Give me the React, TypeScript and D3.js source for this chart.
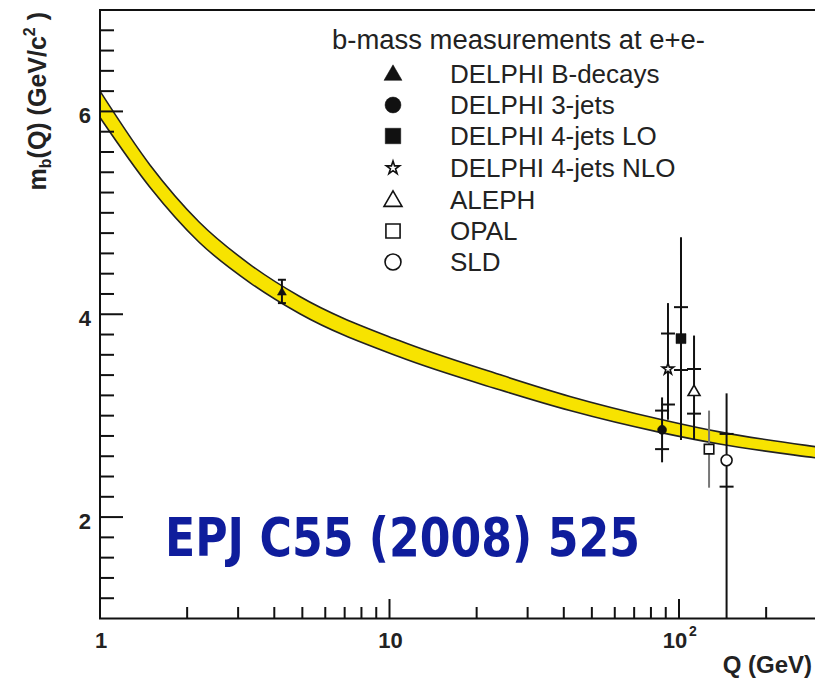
import React from "react";
import * as d3 from "d3";

// running b-quark mass band
const bandQ = [1, 1.49, 2.2, 3.3, 4.9, 10.8, 24, 42, 86, 138, 295, 400];
const bandMass = [6.07, 5.36, 4.81, 4.4, 4.09, 3.66, 3.33, 3.12, 2.9, 2.78, 2.64, 2.59];
const bandHalf = [0.13, 0.11, 0.1, 0.09, 0.085, 0.08, 0.075, 0.07, 0.065, 0.06, 0.055, 0.055];

// measurements
const expNames = ["DELPHI B-decays", "DELPHI 3-jets", "DELPHI 4-jets LO", "DELPHI 4-jets NLO", "ALEPH", "OPAL", "SLD"];
const expQ = [4.25, 87.4, 101.6, 91.6, 112.7, 127, 146];
const expMass = [4.22, 2.86, 3.76, 3.46, 3.24, 2.67, 2.56];
const expErrUp = [0.12, 0.32, 1.0, 0.65, 0.55, 0.38, 0.66];
const expErrDown = [0.11, 0.32, 1.0, 0.5, 0.48, 0.38, 1.7];
const expStat = [0, 0.19, 0.31, 0.35, 0.22, 0, 0.26];
const expSymbol = ["triangle", "circle", "square", "star", "triangle", "square", "circle"];
const expFilled = [true, true, true, false, false, false, false];

const legendTitle = "b-mass measurements at e+e-";
const yTickValues = [2, 4, 6];

const W = 815, H = 681;
const FONT = "'Liberation Sans', Arial, Helvetica, sans-serif";

const symType: Record<string, d3.SymbolType> = {
  triangle: d3.symbolTriangle,
  circle: d3.symbolCircle,
  square: d3.symbolSquare,
  star: d3.symbolStar,
};

export default function App() {
  const x = d3.scaleLog().domain([1, 1000]).range([100, 100 + 3 * 289.5]);
  const y = d3.scaleLinear().domain([1, 7]).range([618.5, 10]);

  const band = bandQ.map((q, i) => ({ q, m: bandMass[i], h: bandHalf[i] }));
  const area = d3.area<any>().x(d => x(d.q)).y0(d => y(d.m - d.h)).y1(d => y(d.m + d.h)).curve(d3.curveMonotoneX);
  const upper = d3.line<any>().x(d => x(d.q)).y(d => y(d.m + d.h)).curve(d3.curveMonotoneX);
  const lower = d3.line<any>().x(d => x(d.q)).y(d => y(d.m - d.h)).curve(d3.curveMonotoneX);

  // minor ticks
  const yMinor = d3.range(1.2, 6.81, 0.2).filter(v => !yTickValues.some(t => Math.abs(t - v) < 1e-6));
  const xMinor: number[] = [];
  [1, 10, 100].forEach(d => { for (let k = 2; k <= 9; k++) xMinor.push(k * d); });

  const plotSize = [35, 64, 100, 40, 62, 90, 95];
  const legendSize = [140, 200, 240, 55, 140, 200, 200];

  const marker = (i: number, size: number, cx: number, cy: number, key: string) => {
    const p = d3.symbol().type(symType[expSymbol[i]]).size(size)();
    const dy = expSymbol[i] === "triangle" ? Math.sqrt(size) * 0.1 : 0;
    return (
      <path key={key} d={p || ""} transform={`translate(${cx},${cy + dy})`}
        fill={expFilled[i] ? "#111" : "white"} stroke="#111"
        strokeWidth={expFilled[i] ? 0.5 : 1.6} />
    );
  };

  return (
    <svg width={W} height={H} style={{ position: "absolute", left: 0, top: 0, background: "white" }} fontFamily={FONT}>
      <defs>
        <clipPath id="plot"><rect x={100} y={10} width={900} height={608.5} /></clipPath>
      </defs>

      {/* band */}
      <g clipPath="url(#plot)">
        <path d={area(band) || ""} fill="#f7e300" />
        <path d={upper(band) || ""} fill="none" stroke="#222" strokeWidth={1.6} />
        <path d={lower(band) || ""} fill="none" stroke="#222" strokeWidth={1.6} />

        {/* error bars */}
        {expQ.map((q, i) => {
          const cx = x(q);
          const isOpal = expNames[i] === "OPAL";
          const col = isOpal ? "#777" : "#111";
          const capW = i === 0 ? 4 : 0;
          return (
            <g key={"e" + i}>
              <line x1={cx} x2={cx} y1={y(expMass[i] + expErrUp[i])} y2={y(expMass[i] - expErrDown[i])} stroke={col} strokeWidth={2} />
              {capW > 0 && [expErrUp[i], -expErrDown[i]].map((e, j) => (
                <line key={j} x1={cx - capW} x2={cx + capW} y1={y(expMass[i] + e)} y2={y(expMass[i] + e)} stroke={col} strokeWidth={2} />
              ))}
              {expStat[i] > 0 && [expStat[i], -expStat[i]].map((e, j) => (
                <line key={"s" + j} x1={cx - 7} x2={cx + 7} y1={y(expMass[i] + e)} y2={y(expMass[i] + e)} stroke={col} strokeWidth={2} />
              ))}
            </g>
          );
        })}
        {expQ.map((q, i) => marker(i, plotSize[i], x(q), y(expMass[i]), "m" + i))}
      </g>

      {/* frame */}
      <line x1={100} x2={100} y1={10} y2={619} stroke="#111" strokeWidth={2} />
      <line x1={99} x2={W} y1={618.5} y2={618.5} stroke="#111" strokeWidth={2} />
      <line x1={99} x2={W} y1={10} y2={10} stroke="#111" strokeWidth={2} />

      {/* y ticks */}
      {yMinor.map(v => (
        <line key={"ym" + v} x1={100} x2={114} y1={y(v)} y2={y(v)} stroke="#111" strokeWidth={2} />
      ))}
      {yTickValues.map(v => (
        <g key={"yt" + v}>
          <line x1={100} x2={123} y1={y(v)} y2={y(v)} stroke="#111" strokeWidth={2} />
          <text x={91} y={y(v) + 12} textAnchor="end" fontSize={22} fontWeight="bold" fill="#222">{v}</text>
        </g>
      ))}

      {/* x ticks */}
      {xMinor.map(v => (
        <line key={"xm" + v} x1={x(v)} x2={x(v)} y1={618.5} y2={607} stroke="#111" strokeWidth={2} />
      ))}
      {[10, 100].map(v => (
        <line key={"xt" + v} x1={x(v)} x2={x(v)} y1={618.5} y2={599} stroke="#111" strokeWidth={2} />
      ))}
      <text x={x(1) + 1} y={648} textAnchor="middle" fontSize={22} fontWeight="bold" fill="#222">1</text>
      <text x={x(10) + 1} y={648} textAnchor="middle" fontSize={22} fontWeight="bold" fill="#222">10</text>
      <text x={x(100) - 4} y={648} textAnchor="middle" fontSize={22} fontWeight="bold" fill="#222">10</text>
      <text x={x(100) + 10} y={636} textAnchor="start" fontSize={14} fontWeight="bold" fill="#222">2</text>
      <text x={812} y={673} textAnchor="end" fontSize={24} fontWeight="bold" fill="#222">Q (GeV)</text>

      {/* y title */}
      <text transform="translate(46,12) rotate(-90)" textAnchor="end" fontSize={25} fontWeight="bold" fill="#222">
        m<tspan fontSize={16} dy={5}>b</tspan><tspan dy={-5}>(Q) (GeV/c</tspan><tspan fontSize={16} dy={-11}>2</tspan><tspan dy={11}> )</tspan>
      </text>

      {/* legend */}
      <text x={332} y={49} fontSize={27} fill="#222" textLength={373} lengthAdjust="spacingAndGlyphs">{legendTitle}</text>
      {expNames.map((n, i) => {
        const base = [83, 114, 145, 177, 209, 240, 271][i];
        return (
          <g key={"l" + i}>
            {marker(i, legendSize[i], 393, base - 9, "lm" + i)}
            <text x={450} y={base} fontSize={26} fill="#222">{n}</text>
          </g>
        );
      })}

      {/* reference */}
      <text x={165} y={556} fontSize={54} fontWeight="bold" fill="#0f1d9c" fontFamily="'DejaVu Sans', sans-serif"
        textLength={475} lengthAdjust="spacingAndGlyphs">EPJ C55 (2008) 525</text>
    </svg>
  );
}
